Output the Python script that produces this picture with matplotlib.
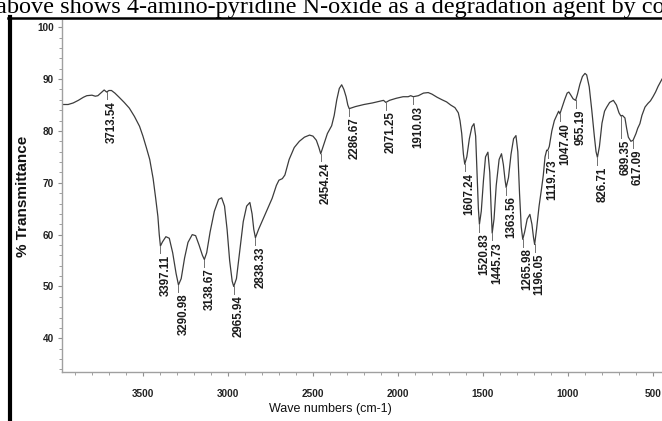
import matplotlib
matplotlib.use("Agg")
import matplotlib.pyplot as plt
from matplotlib.ticker import MultipleLocator
from matplotlib.lines import Line2D

# spectrum (wave number, % transmittance)
wavenumbers = [3975, 3940, 3910, 3880, 3850, 3830, 3800, 3780, 3765, 3745, 3728,
               3713.54, 3700, 3685, 3665, 3640, 3610, 3580, 3550, 3520, 3500, 3480,
               3460, 3440, 3425, 3412, 3404, 3397.11, 3385, 3365, 3345, 3325, 3305,
               3290.98, 3275, 3255, 3235, 3210, 3190, 3170, 3150, 3138.67, 3125,
               3105, 3080, 3055, 3037, 3020, 3005, 2990, 2975, 2965.94, 2950, 2930,
               2910, 2890, 2871, 2858, 2848, 2838.33, 2820, 2800, 2770, 2740, 2715,
               2700, 2680, 2665, 2640, 2610, 2580, 2550, 2520, 2500, 2480, 2465,
               2454.24, 2440, 2415, 2390, 2375, 2360, 2345, 2331, 2318, 2305, 2295,
               2286.67, 2250, 2200, 2150, 2100, 2085, 2071.25, 2050, 2010, 1970,
               1940, 1925, 1910.03, 1880, 1850, 1822, 1800, 1770, 1740, 1714, 1690,
               1665, 1645, 1635, 1625, 1615, 1607.24, 1595, 1580, 1565, 1553, 1543,
               1535, 1527, 1520.83, 1510, 1497, 1485, 1471, 1460, 1452, 1445.73,
               1435, 1422, 1405, 1391, 1380, 1370, 1363.56, 1350, 1335, 1320, 1306,
               1295, 1285, 1275, 1265.98, 1255, 1240, 1224, 1212, 1203, 1196.05,
               1185, 1170, 1155, 1145, 1135, 1125, 1119.73, 1110, 1095, 1080, 1066,
               1055, 1047.40, 1035, 1020, 1005, 995, 985, 970, 955.19, 945, 930, 915,
               900, 890, 875, 860, 845, 835, 826.71, 815, 800, 785, 772, 755, 733,
               715, 700, 689.35, 680, 665, 655, 645, 630, 617.09, 600, 590, 577, 565,
               547, 530, 515, 500, 485, 470, 455, 447]
transmittance = [85.1, 85.1, 85.4, 85.9, 86.5, 86.8, 86.9, 86.7, 86.8, 87.4, 87.9,
                 87.5, 87.8, 87.8, 87.3, 86.5, 85.5, 84.4, 82.8, 80.9, 79.0, 76.8,
                 74.5, 70.8, 67.0, 63.5, 60.0, 57.8, 58.6, 59.6, 59.3, 56.5, 52.5,
                 50.3, 51.5, 55.5, 58.5, 60.0, 59.8, 58.0, 56.0, 55.2, 56.5,
                 60.5, 64.5, 66.8, 67.1, 65.5, 61.0, 55.0, 51.0, 50.0, 51.5, 57.0,
                 62.5, 65.5, 66.2, 64.0, 61.0, 59.4, 61.0, 62.5, 64.8, 67.0, 69.5,
                 70.5, 70.8, 71.5, 74.5, 76.8, 78.0, 78.8, 79.2, 79.0, 78.2, 76.8,
                 75.6, 77.0, 79.5, 81.0, 83.0, 86.0, 88.2, 88.9, 88.0, 86.6, 85.0,
                 84.3, 84.7, 85.1, 85.4, 85.8, 85.9, 85.5, 85.9, 86.3, 86.6,
                 86.6, 86.8, 86.6, 86.8, 87.3, 87.4, 87.1, 86.5, 86.0, 85.6, 85.0,
                 84.5, 83.5, 82.0, 79.5, 75.5, 73.6, 75.0, 78.5, 80.8, 81.4, 79.0,
                 72.0, 65.0, 62.0, 64.5, 70.5, 75.0, 75.9, 72.0, 65.0, 60.3,
                 63.0, 69.5, 74.5, 75.6, 73.5, 70.5, 69.1, 71.0, 75.5, 78.5, 79.1,
                 76.0, 68.0, 61.5, 59.1, 60.5, 63.0, 63.9, 62.0, 59.5, 58.1,
                 61.0, 65.5, 69.0, 71.5, 75.0, 76.3, 76.2, 77.0, 80.0, 82.0, 83.0,
                 83.8, 83.3, 84.5, 86.0, 87.3, 87.5, 87.0, 86.2, 85.9, 87.0, 89.0, 90.5,
                 91.1, 90.8, 88.5, 84.0, 79.0, 76.0, 74.9, 77.0, 81.5, 83.8, 84.6, 85.5, 85.9,
                 85.0, 83.5, 82.9, 83.0, 82.5, 80.5, 78.8, 78.0, 78.2, 79.5, 80.5, 81.4, 83.0,
                 84.6, 85.3, 85.8, 86.6, 87.5, 88.6, 89.5, 90.0]

peak_labels = [3713.54, 3397.11, 3290.98, 3138.67, 2965.94, 2838.33, 2454.24,
               2286.67, 2071.25, 1910.03, 1607.24, 1520.83, 1445.73, 1363.56,
               1265.98, 1196.05, 1119.73, 1047.40, 955.19, 826.71, 689.35, 617.09]

x_ticks = [3500, 3000, 2500, 2000, 1500, 1000, 500]
y_ticks = [40, 50, 60, 70, 80, 90, 100]

sans = ['Liberation Sans', 'DejaVu Sans']

fig = plt.figure(figsize=(6.62, 4.21), dpi=100)
fig.patch.set_facecolor('white')

# axes box: left spine at x=62px, bottom spine at y=372px, runs off the right edge
ax = fig.add_axes([62 / 662, 49 / 421, 600 / 662, 352 / 421])
ax.plot(wavenumbers, transmittance, color='#3c3c3c', lw=0.9)
ax.set_xlim(3976, 447)
ax.set_ylim(33.5, 101.4)

for side in ['top', 'right']:
    ax.spines[side].set_visible(False)
for side in ['left', 'bottom']:
    ax.spines[side].set_color('#a0a0a0')
    ax.spines[side].set_linewidth(1.0)

ax.set_xticks(x_ticks)
ax.set_yticks(y_ticks)
ax.xaxis.set_minor_locator(MultipleLocator(100))
ax.yaxis.set_minor_locator(MultipleLocator(2))
ax.tick_params(which='major', length=3, color='#909090', width=0.8)
ax.tick_params(which='minor', length=2, color='#909090', width=0.6)
ax.tick_params(axis='x', pad=9)
ax.tick_params(axis='y', pad=3)
for lab in ax.get_xticklabels() + ax.get_yticklabels():
    lab.set_family(sans)
    lab.set_fontweight('bold')
    lab.set_fontsize(7.2)
    lab.set_color('#222222')

ax.set_xlabel('Wave numbers (cm-1)', family=sans, fontsize=9, color='#111111')
ax.xaxis.set_label_coords(0.447, -0.088)
ax.set_ylabel('% Transmittance', family=sans, fontsize=11, fontweight='bold',
              color='#111111')
ax.yaxis.set_label_coords(-0.053, 0.5)

# peak annotations: short drop line then vertical number just right of it
for wn in peak_labels:
    t = transmittance[wavenumbers.index(wn)]
    drop = 4.2 if wn == 689.35 else 1.4
    ax.plot([wn, wn], [t, t - drop], color='#707070', lw=0.7)
    ax.text(wn + 6, t - drop - 0.3, f'{wn:.2f}', rotation=90, ha='left', va='top',
            family=sans, fontsize=8.3, fontweight='bold', color='#1a1a1a')

# page around the figure: cut-off sentence and frame lines
fig.text(-0.006, 1 - 12.5 / 421, 'above shows 4-amino-pyridine N-oxide as a degradation agent by co',
         family=['Liberation Serif', 'DejaVu Serif'], fontsize=17.5, va='baseline',
         ha='left', color='black')
fig.add_artist(Line2D([8 / 662, 1], [1 - 17.5 / 421] * 2, color='black', lw=1.8,
                      transform=fig.transFigure))
fig.add_artist(Line2D([9.5 / 662] * 2, [0, 1 - 17 / 421], color='black', lw=3,
                      transform=fig.transFigure))

fig.savefig('out.png', dpi=100)
